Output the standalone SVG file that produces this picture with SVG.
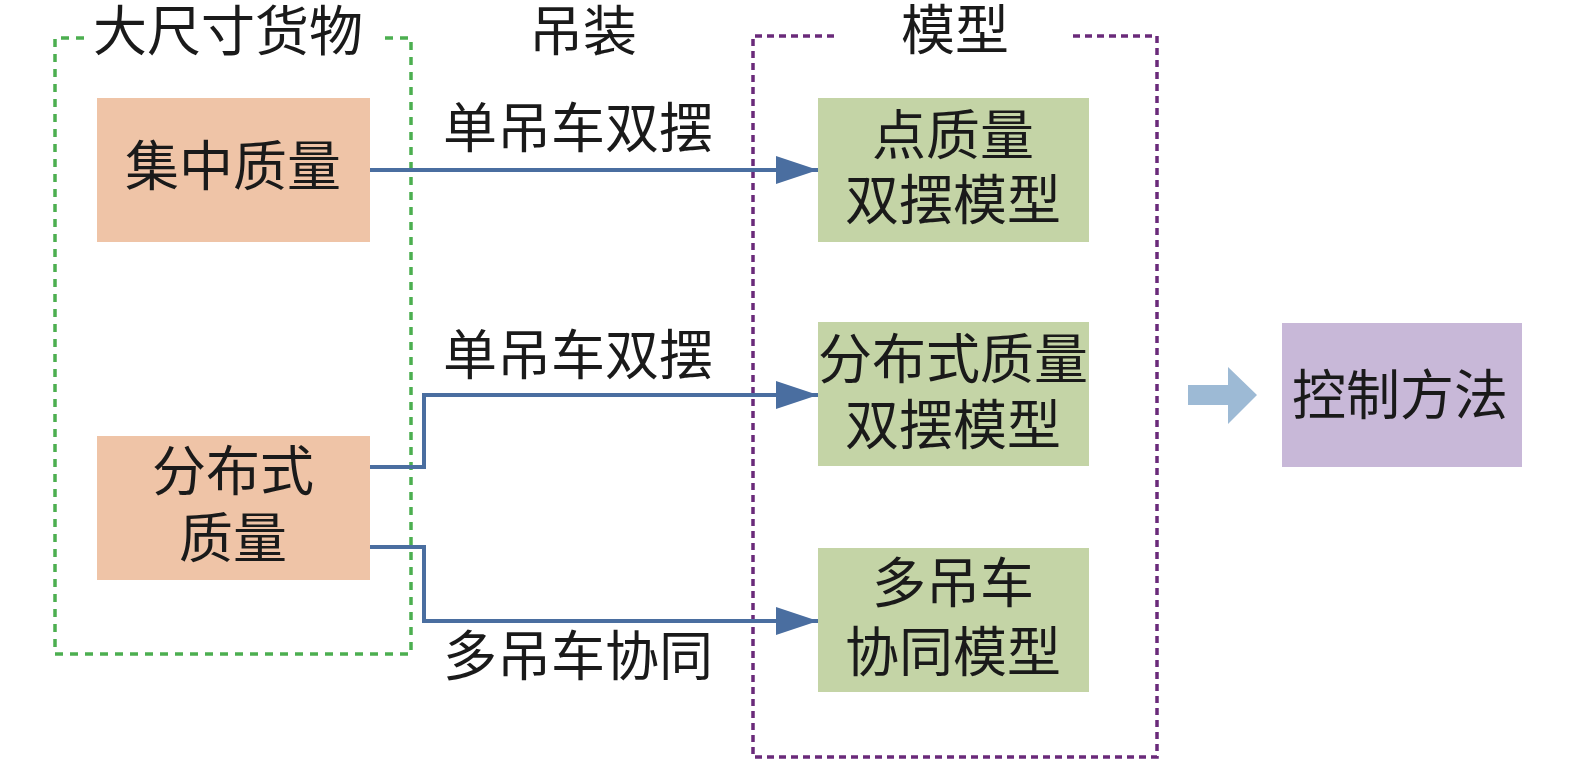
<svg xmlns="http://www.w3.org/2000/svg" width="1575" height="761" viewBox="0 0 1575 761">
<defs>
<style>
text{font-family:"Noto Sans CJK SC","Noto Sans CJK TC",sans-serif;font-size:54px;fill:#1a1a1a;text-anchor:middle}
.grp-g{fill:none;stroke:#4CAF50;stroke-width:3.5;stroke-dasharray:8 7}
.grp-p{fill:none;stroke:#6A2A7A;stroke-width:3.5;stroke-dasharray:7 5}
.src{fill:#EFC4A7}
.mdl{fill:#C4D4A6}
.ctl{fill:#C8B8D8}
.conn{fill:none;stroke:#4A6EA0;stroke-width:4}
</style>
<marker id="ah" markerUnits="userSpaceOnUse" markerWidth="44" markerHeight="28" refX="42" refY="14" orient="auto">
<path d="M0,0 L42,14 L0,28 Z" fill="#4A6EA0"/>
</marker>
</defs>
<rect width="1575" height="761" fill="#ffffff"/>

<g id="group-cargo">
<path class="grp-g" d="M385,38 H411 V654 H55 V38 H84"/>
<text x="228" y="51">大尺寸货物</text>
</g>
<g id="group-model">
<path class="grp-p" d="M1073,36 H1157 V757 H753 V36 H838"/>
<text x="955" y="50">模型</text>
</g>
<g id="label-hoist"><text x="583" y="51">吊装</text></g>

<g id="connectors">
<path class="conn" d="M370,170 H818" marker-end="url(#ah)"/>
<path class="conn" d="M370,467 H424 V395 H818" marker-end="url(#ah)"/>
<path class="conn" d="M370,547 H424 V621 H818" marker-end="url(#ah)"/>
<text x="578" y="148">单吊车双摆</text>
<text x="578" y="375">单吊车双摆</text>
<text x="578" y="676">多吊车协同</text>
</g>

<g id="node-lumped">
<rect class="src" x="97" y="98" width="273" height="144"/>
<text x="233" y="186">集中质量</text>
</g>
<g id="node-distributed">
<rect class="src" x="97" y="436" width="273" height="144"/>
<text x="233" y="491">分布式</text>
<text x="233" y="558">质量</text>
</g>

<g id="node-model1">
<rect class="mdl" x="818" y="98" width="271" height="144"/>
<text x="953" y="155">点质量</text>
<text x="953" y="220">双摆模型</text>
</g>
<g id="node-model2">
<rect class="mdl" x="818" y="322" width="271" height="144"/>
<text x="953" y="379">分布式质量</text>
<text x="953" y="445">双摆模型</text>
</g>
<g id="node-model3">
<rect class="mdl" x="818" y="548" width="271" height="144"/>
<text x="953" y="603">多吊车</text>
<text x="953" y="672">协同模型</text>
</g>

<g id="block-arrow">
<path d="M1188,385 H1228 V367 L1257,395 L1228,424 V405 H1188 Z" fill="#9DBAD5"/>
</g>
<g id="node-control">
<rect class="ctl" x="1282" y="323" width="240" height="144"/>
<text x="1400" y="415">控制方法</text>
</g>
</svg>
